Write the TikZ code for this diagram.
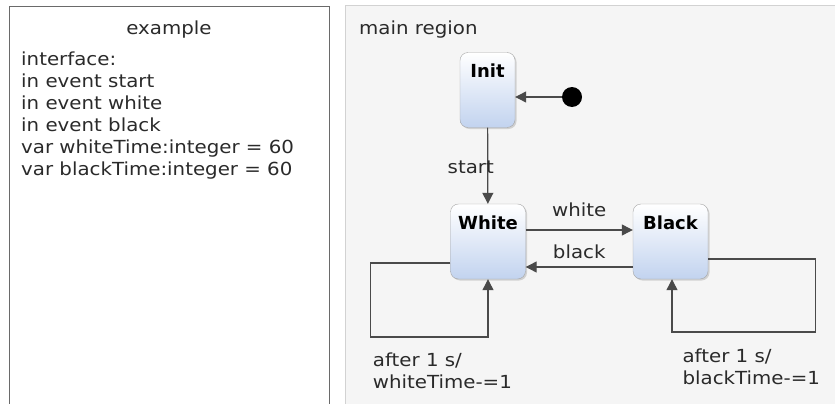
\documentclass[tikz,border=0pt]{standalone}
\usepackage{fontspec}
\setmainfont{DejaVu Sans}[UprightFeatures={FakeStretch=1.1}]
\usepackage{tikz}
\usetikzlibrary{positioning,arrows.meta,shadows}
\definecolor{linegray}{HTML}{4A4A4A}
\definecolor{textgray}{HTML}{2A2A2A}
\definecolor{panelline}{HTML}{6A6A6A}
\definecolor{regionline}{HTML}{D2D2D2}
\definecolor{regionfill}{HTML}{F5F5F5}
\definecolor{stateedge}{HTML}{A6A6A6}
\definecolor{stateblue}{HTML}{C2D3EF}

\begin{document}
\begin{tikzpicture}[
x=1pt, y=-1pt,
font=\fontsize{18}{22}\selectfont,
panel/.style={anchor=north west, inner sep=0pt, line width=1pt},
state/.style={draw=stateedge, rounded corners=8pt, top color=white, bottom color=stateblue, font=\fontsize{18}{22}\selectfont\bfseries, text=black, inner xsep=0pt, inner ysep=0pt, text height=25pt, text depth=50pt, minimum width=75pt, drop shadow={opacity=0.3, shadow xshift=1.5pt, shadow yshift=-1.5pt}},
arr/.style={-{Triangle[length=11pt,width=11pt]}, draw=linegray, line width=1.2pt},
lbl/.style={inner sep=2pt, text=textgray}
]
\useasboundingbox (0,0) rectangle (835,404);
\clip (0,0) rectangle (835,404);

\node[panel, draw=panelline, fill=white, minimum width=320pt, minimum height=420pt] (spec) at (9,6) {};
\node[panel, draw=regionline, fill=regionfill, minimum width=510pt, minimum height=420pt] (region) at (345,5) {};

\node[lbl, anchor=base] (spectitle) at (169,35) {example};
\node[lbl, anchor=north west, align=left, inner sep=0pt] (speclist) at (21,52) {interface:\\in event start\\in event white\\in event black\\var whiteTime:integer = 60\\var blackTime:integer = 60};
\node[lbl, anchor=base west] (regiontitle) at (357,35) {main region};

\node[state, minimum width=55pt] (init) at (487.5,90) {Init};
\node[state] (white) at (488,241.5) {White};
\node[state] (black) at (670.5,241.5) {Black};
\node[circle, fill=black, inner sep=0pt, minimum size=20pt] (initdot) at (572,97) {};

\draw[arr] (initdot) -- (initdot -| init.east);
\draw[arr] (init) -- node[lbl, pos=0.52, xshift=-17pt] {start} (white);
\draw[arr] ([yshift=11.5pt]white.east) -- node[lbl, above=11pt] {white} ([yshift=11.5pt]black.west);
\draw[arr] ([yshift=-25.5pt]black.west) -- node[lbl, above=6pt] {black} ([yshift=-25.5pt]white.east);
\draw[arr] ([yshift=-21.5pt]white.west) -| ++(-80,74)
  node[lbl, anchor=north west, align=left, yshift=-13pt] (whitenote) {after 1 s/\\whiteTime-=1}
  -| (white.south);
\draw[arr] ([yshift=-17.5pt]black.east) -| ++(107,73)
  -| node[lbl, pos=0.5, anchor=north west, align=left, xshift=8pt, yshift=-14pt] (blacknote) {after 1 s/\\blackTime-=1}
  ([xshift=1.5pt]black.south);
\end{tikzpicture}
\end{document}
